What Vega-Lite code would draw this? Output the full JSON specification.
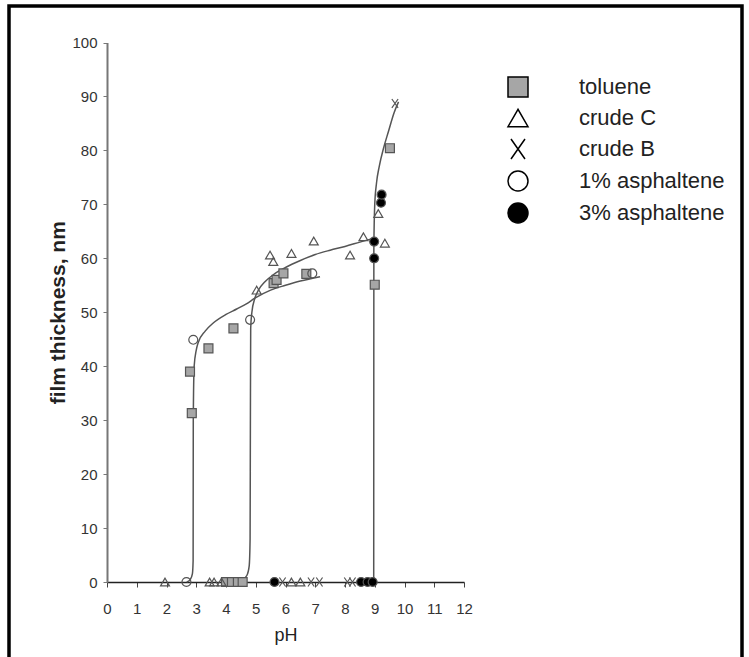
{
  "$schema": "https://vega.github.io/schema/vega-lite/v6.json",
  "width": 733,
  "height": 660,
  "autosize": {"type": "none"},
  "padding": {"left": 9, "top": 6, "right": 7, "bottom": 0},
  "background": "white",
  "config": {
    "view": {"stroke": "black", "strokeWidth": 3.5},
    "font": "Liberation Sans"
  },
  "datasets": {
    "curves": [
      {"curve": "a", "pH": 2.68, "t": 0},
      {"curve": "a", "pH": 2.8, "t": 0.5},
      {"curve": "a", "pH": 2.87, "t": 1.5},
      {"curve": "a", "pH": 2.895, "t": 4},
      {"curve": "a", "pH": 2.9, "t": 30},
      {"curve": "a", "pH": 2.93, "t": 40},
      {"curve": "a", "pH": 3.0, "t": 43},
      {"curve": "a", "pH": 3.06, "t": 44.3},
      {"curve": "a", "pH": 3.3, "t": 46.5},
      {"curve": "a", "pH": 3.57, "t": 48},
      {"curve": "a", "pH": 4.0, "t": 49.6},
      {"curve": "a", "pH": 4.36, "t": 50.6},
      {"curve": "a", "pH": 4.7, "t": 51.6},
      {"curve": "a", "pH": 4.97, "t": 52.6},
      {"curve": "a", "pH": 5.5, "t": 54.1},
      {"curve": "a", "pH": 6.0, "t": 55},
      {"curve": "a", "pH": 6.5, "t": 55.8},
      {"curve": "a", "pH": 7.16, "t": 56.6},
      {"curve": "b", "pH": 4.3, "t": 0},
      {"curve": "b", "pH": 4.55, "t": 0.4},
      {"curve": "b", "pH": 4.7, "t": 1.2},
      {"curve": "b", "pH": 4.78, "t": 3},
      {"curve": "b", "pH": 4.81, "t": 8},
      {"curve": "b", "pH": 4.82, "t": 30},
      {"curve": "b", "pH": 4.83, "t": 47},
      {"curve": "b", "pH": 4.87, "t": 50},
      {"curve": "b", "pH": 4.97, "t": 52.6},
      {"curve": "b", "pH": 5.1, "t": 54.2},
      {"curve": "b", "pH": 5.3, "t": 55.6},
      {"curve": "b", "pH": 5.6, "t": 57},
      {"curve": "b", "pH": 6.0, "t": 58.3},
      {"curve": "b", "pH": 6.5, "t": 59.6},
      {"curve": "b", "pH": 7.0, "t": 60.7},
      {"curve": "b", "pH": 7.5, "t": 61.5},
      {"curve": "b", "pH": 8.0, "t": 62.2},
      {"curve": "b", "pH": 8.5, "t": 63},
      {"curve": "b", "pH": 8.95, "t": 63.7},
      {"curve": "c", "pH": 8.965, "t": 0},
      {"curve": "c", "pH": 8.97, "t": 62},
      {"curve": "c", "pH": 9.0, "t": 70},
      {"curve": "c", "pH": 9.06, "t": 74},
      {"curve": "c", "pH": 9.15, "t": 77},
      {"curve": "c", "pH": 9.3, "t": 80.5},
      {"curve": "c", "pH": 9.46, "t": 83.5},
      {"curve": "c", "pH": 9.65, "t": 87},
      {"curve": "c", "pH": 9.8, "t": 89}
    ],
    "points": [
      {"series": "toluene", "pH": 2.85, "t": 31.3},
      {"series": "toluene", "pH": 2.79, "t": 39.0},
      {"series": "toluene", "pH": 3.41, "t": 43.3},
      {"series": "toluene", "pH": 4.25, "t": 47.0},
      {"series": "toluene", "pH": 5.6, "t": 55.4},
      {"series": "toluene", "pH": 5.7, "t": 56.0},
      {"series": "toluene", "pH": 5.93, "t": 57.2},
      {"series": "toluene", "pH": 6.7, "t": 57.1},
      {"series": "toluene", "pH": 9.0, "t": 55.1},
      {"series": "toluene", "pH": 9.51, "t": 80.4},
      {"series": "toluene", "pH": 4.0, "t": 0},
      {"series": "toluene", "pH": 4.2, "t": 0},
      {"series": "toluene", "pH": 4.4, "t": 0},
      {"series": "toluene", "pH": 4.56, "t": 0},
      {"series": "crude C", "pH": 5.03, "t": 54.1},
      {"series": "crude C", "pH": 5.48, "t": 60.6},
      {"series": "crude C", "pH": 5.59, "t": 59.4},
      {"series": "crude C", "pH": 6.2, "t": 60.9},
      {"series": "crude C", "pH": 6.95, "t": 63.2},
      {"series": "crude C", "pH": 8.17, "t": 60.6},
      {"series": "crude C", "pH": 8.62, "t": 64.0},
      {"series": "crude C", "pH": 9.12, "t": 68.3},
      {"series": "crude C", "pH": 9.34, "t": 62.8},
      {"series": "crude C", "pH": 1.95, "t": 0},
      {"series": "crude C", "pH": 3.45, "t": 0},
      {"series": "crude C", "pH": 3.6, "t": 0},
      {"series": "crude C", "pH": 3.85, "t": 0},
      {"series": "crude C", "pH": 6.2, "t": 0},
      {"series": "crude C", "pH": 6.5, "t": 0},
      {"series": "crude B", "pH": 9.68, "t": 88.7},
      {"series": "crude B", "pH": 5.9, "t": 0},
      {"series": "crude B", "pH": 6.86, "t": 0},
      {"series": "crude B", "pH": 7.14, "t": 0},
      {"series": "crude B", "pH": 8.08, "t": 0},
      {"series": "crude B", "pH": 8.25, "t": 0},
      {"series": "1% asphaltene", "pH": 2.9, "t": 44.9},
      {"series": "1% asphaltene", "pH": 4.81, "t": 48.6},
      {"series": "1% asphaltene", "pH": 6.9, "t": 57.2},
      {"series": "1% asphaltene", "pH": 2.67, "t": 0},
      {"series": "3% asphaltene", "pH": 9.21, "t": 70.3},
      {"series": "3% asphaltene", "pH": 9.23, "t": 71.8},
      {"series": "3% asphaltene", "pH": 8.98, "t": 63.1},
      {"series": "3% asphaltene", "pH": 8.98, "t": 60.0},
      {"series": "3% asphaltene", "pH": 5.63, "t": 0},
      {"series": "3% asphaltene", "pH": 8.54, "t": 0},
      {"series": "3% asphaltene", "pH": 8.76, "t": 0},
      {"series": "3% asphaltene", "pH": 8.93, "t": 0}
    ]
  },
  "layer": [
    {
      "data": {"name": "curves"},
      "mark": {"type": "line", "color": "#555", "strokeWidth": 1.5, "interpolate": "monotone"},
      "encoding": {
        "x": {
          "field": "pH", "type": "quantitative",
          "scale": {"domain": [0, 12], "range": [98, 455], "nice": false, "zero": false},
          "axis": {
            "title": "pH", "orient": "bottom", "offset": -84, "format": "d",
            "values": [0, 1, 2, 3, 4, 5, 6, 7, 8, 9, 10, 11, 12],
            "grid": false, "domainColor": "#222", "domainWidth": 1.5,
            "tickColor": "#444", "tickSize": 5, "labelPadding": 14,
            "labelFontSize": 15, "labelColor": "#333", "labelFlush": false, "labelOverlap": false,
            "labelFont": "Liberation Sans", "titleFont": "Liberation Sans",
            "titleFontSize": 18, "titleFontWeight": "normal", "titleColor": "#222", "titlePadding": 10
          }
        },
        "y": {
          "field": "t", "type": "quantitative",
          "scale": {"domain": [0, 100], "range": [576, 36.5], "nice": false, "zero": false},
          "axis": {
            "title": "film thickness, nm", "orient": "left", "offset": -98, "format": "d",
            "values": [0, 10, 20, 30, 40, 50, 60, 70, 80, 90, 100],
            "grid": false, "domainColor": "#777", "domainWidth": 2,
            "tickColor": "#777", "tickSize": 4, "labelPadding": 6,
            "labelFontSize": 15, "labelColor": "#333", "labelFlush": false, "labelOverlap": false,
            "labelFont": "Liberation Sans", "titleFont": "Liberation Sans",
            "titleFontSize": 21, "titleFontWeight": "bold", "titleColor": "#222", "titlePadding": 3
          }
        },
        "detail": {"field": "curve"}
      }
    },
    {
      "mark": {"type": "rule", "color": "#888", "strokeWidth": 1.5},
      "encoding": {
        "x": {"datum": 0},
        "x2": {"datum": 12},
        "y": {"datum": 100}
      }
    },
    {
      "mark": {"type": "rule", "color": "#888", "strokeWidth": 1.5},
      "encoding": {
        "x": {"datum": 12},
        "y": {"datum": 0},
        "y2": {"datum": 100}
      }
    },
    {
      "data": {"name": "points"},
      "mark": {"type": "point", "filled": true, "size": 80, "stroke": "#555", "strokeWidth": 1.2, "opacity": 1},
      "encoding": {
        "x": {"field": "pH", "type": "quantitative"},
        "y": {"field": "t", "type": "quantitative"},
        "shape": {
          "field": "series", "type": "nominal",
          "scale": {
            "domain": ["toluene", "crude C", "crude B", "1% asphaltene", "3% asphaltene"],
            "range": ["square", "triangle-up", "M-0.7,-1L0.7,1M-0.7,1L0.7,-1", "circle", "circle"]
          },
          "legend": {
            "title": null, "orient": "none", "legendX": 498, "legendY": 70,
            "symbolSize": 400, "symbolStrokeColor": "black", "symbolStrokeWidth": 1.5,
            "labelFontSize": 22, "labelFont": "Liberation Sans", "labelColor": "#222",
            "labelOffset": 50, "rowPadding": 6, "padding": 0, "labelLimit": 300,
            "symbolOpacity": 1,
            "encode": {"symbols": {"update": {"stroke": {"value": "black"}, "strokeWidth": {"value": 1.5}}}}
          }
        },
        "fill": {
          "field": "series", "type": "nominal",
          "scale": {
            "domain": ["toluene", "crude C", "crude B", "1% asphaltene", "3% asphaltene"],
            "range": ["#a6a6a6", "transparent", "transparent", "transparent", "black"]
          },
          "legend": {
            "title": null, "orient": "none", "legendX": 498, "legendY": 70,
            "symbolSize": 400, "symbolStrokeColor": "black", "symbolStrokeWidth": 1.5,
            "labelFontSize": 22, "labelFont": "Liberation Sans", "labelColor": "#222",
            "labelOffset": 50, "rowPadding": 6, "padding": 0, "labelLimit": 300,
            "symbolOpacity": 1,
            "encode": {"symbols": {"update": {"stroke": {"value": "black"}, "strokeWidth": {"value": 1.5}}}}
          }
        }
      }
    }
  ]
}
